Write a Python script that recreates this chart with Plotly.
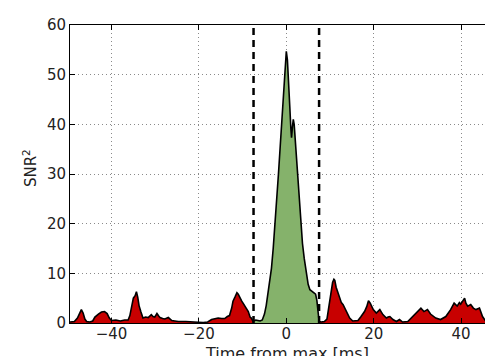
import numpy as np
import plotly.graph_objects as go

# ---- data ----
time_ms = [
    -49.5, -48.5, -47.8, -47.3, -46.9, -46.5, -46.1, -45.7, -45.0, -44.3,
    -43.8, -43.0, -42.3, -41.6, -41.0, -40.5, -40.0, -39.0, -38.0, -37.0,
    -36.2, -35.8, -35.3, -35.0, -34.6, -34.3, -34.0, -33.7, -33.3, -32.8,
    -32.2, -31.6, -30.9, -30.5, -30.1, -29.6, -29.2, -28.9, -28.3, -27.8,
    -27.0, -26.2, -25.5, -24.7, -23.0, -21.6, -20.1, -19.0, -18.0, -17.1,
    -16.3, -15.6, -14.8, -14.1, -13.5, -13.0, -12.5, -12.2, -11.7, -11.3,
    -11.0, -10.6, -10.2, -9.9, -9.3, -8.7, -8.3, -8.0, -7.6,
    -7.5, -7.0, -6.5, -6.0, -5.5, -5.0, -4.6, -4.2, -3.8, -3.4,
    -3.0, -2.6, -2.2, -1.8, -1.4, -1.0, -0.6, -0.3, 0.0, 0.25,
    0.5, 0.8, 1.05, 1.2, 1.4, 1.6, 1.8, 2.1, 2.5, 2.9,
    3.3, 3.7, 4.1, 4.6, 5.0, 5.4, 5.8, 6.3, 6.7, 7.0, 7.3, 7.5,
    8.0, 8.7, 9.3, 9.6, 10.0, 10.3, 10.6, 10.9, 11.1, 11.4,
    11.8, 12.2, 12.6, 13.0, 13.4, 13.7, 14.1, 14.5, 15.2, 16.4,
    17.1, 17.9, 18.4, 18.8, 19.2, 19.9, 20.6, 21.0, 21.4, 22.1,
    22.9, 23.3, 23.7, 24.4, 25.2, 25.9, 26.6, 27.8, 28.9, 29.4,
    30.0, 30.8, 31.5, 32.3, 33.0, 34.2, 35.3, 36.5, 37.6, 38.4,
    39.1, 39.6, 39.9, 40.4, 40.8, 41.1, 41.5, 42.2, 42.8, 43.4,
    44.2, 44.9, 45.7, 46.5, 46.9, 47.2, 47.6, 48.0, 48.5, 48.9,
]
snr2 = [
    0.2, 0.3, 1.0, 2.0, 2.7, 2.0, 0.8, 0.3, 0.2, 0.4,
    1.2, 1.8, 2.2, 2.3, 1.9, 1.0, 0.5, 0.6, 0.4, 0.6,
    0.6, 1.5, 3.5, 5.0, 5.5, 6.3, 5.2, 3.5, 2.3, 1.0,
    1.2, 1.1, 1.7, 1.3, 1.2, 1.9, 1.4, 1.1, 0.9, 0.8,
    1.1, 0.5, 0.4, 0.3, 0.3, 0.3, 0.15, 0.1, 0.2, 0.7,
    0.8, 1.0, 0.9, 0.9, 1.3, 1.5, 3.0, 4.4, 5.3, 6.1,
    5.8, 5.0, 4.4, 4.0, 3.0, 2.3, 1.2, 1.0, 0.3,
    0.4, 0.6, 0.5, 0.4, 0.6, 1.8, 3.5, 6.0, 8.3, 11.0,
    15.0, 19.5, 24.5, 30.0, 35.5, 41.5, 48.0, 52.5, 54.7, 53.0,
    49.5, 43.5, 39.0, 37.3, 39.5, 41.0, 40.0, 36.0, 31.5, 26.0,
    20.0, 16.0, 13.0, 10.0, 7.8, 6.7, 6.4, 6.2, 5.8, 4.5, 1.0, 0.3,
    0.2, 0.3, 0.8, 2.5, 5.0, 7.1, 8.2, 8.8, 8.6, 7.2,
    6.0, 5.0, 4.1, 3.7, 3.0, 2.3, 1.6, 1.0, 0.4, 0.5,
    1.3, 2.3, 3.3, 4.5, 4.0, 2.7, 2.0, 2.3, 2.7, 1.7,
    1.0, 1.2, 1.3, 0.7, 0.3, 0.7, 0.2, 0.3, 1.3, 1.8,
    2.3, 3.0, 2.3, 2.7, 1.8, 1.0, 0.7, 1.3, 2.7, 4.0,
    3.4, 4.1, 3.8, 4.6, 5.0, 4.0, 3.4, 3.7, 3.0, 2.7,
    3.0, 1.3, 0.3, 0.7, 2.5, 4.4, 6.0, 7.5, 9.2, 10.3,
]
window_edges = [-7.5, 7.5]
x_ticks = [-40, -20, 0, 20, 40]
x_tick_labels = ["\u221240", "\u221220", "0", "20", "40"]
y_ticks = [0, 10, 20, 30, 40, 50, 60]
x_range = [-49.5, 48.9]
y_range = [0, 60]
x_title = "Time from max [ms]"
y_title = "SNR<sup>2</sup>"

t = np.array(time_ms)
s = np.array(snr2)
inside = (t >= window_edges[0]) & (t <= window_edges[1])
left = t <= window_edges[0]
right = t >= window_edges[1]

RED = "#c80000"
GREEN = "#85b26b"
TXT = "#222222"
FONT = "DejaVu Sans"

fig = go.Figure()
for mask, col in [(left, RED), (right, RED), (inside, GREEN)]:
    fig.add_trace(go.Scatter(
        x=t[mask], y=s[mask], mode="lines", fill="tozeroy",
        fillcolor=col, line=dict(color="black", width=1.6),
        hoverinfo="skip", showlegend=False))

for xe in window_edges:
    fig.add_shape(type="line", xref="x", yref="paper", x0=xe, x1=xe,
                  y0=0, y1=1, line=dict(color="black", width=2.5, dash="7px,5px"))

axis_common = dict(
    showline=True, linecolor="black", linewidth=1, mirror="ticks",
    ticks="inside", ticklen=5, tickwidth=1, tickcolor="black",
    showgrid=True, gridcolor="#8a8a8a", gridwidth=1, griddash="1px,3px",
    zeroline=False, tickfont=dict(family=FONT, size=15, color=TXT),
)
fig.update_xaxes(range=x_range, tickvals=x_ticks, ticktext=x_tick_labels,
                 ticklabelstandoff=-3, **axis_common)
fig.update_yaxes(range=y_range, tickvals=y_ticks, **axis_common)

# axis titles placed as annotations (paper coords relative to plot area)
fig.add_annotation(text=x_title, xref="paper", yref="paper", x=0.505, y=-0.102,
                   xanchor="center", yanchor="middle", showarrow=False,
                   borderpad=0,
                   font=dict(family=FONT, size=16, color=TXT))
fig.add_annotation(text=y_title, xref="paper", yref="paper", x=-0.093, y=0.52,
                   xanchor="center", yanchor="middle", showarrow=False,
                   textangle=-90, font=dict(family=FONT, size=15, color=TXT))

fig.update_layout(
    width=493, height=356,
    margin=dict(l=62, r=1, t=17, b=41),
    plot_bgcolor="white", paper_bgcolor="white",
    font=dict(family=FONT),
)
fig.write_html("out.html")
